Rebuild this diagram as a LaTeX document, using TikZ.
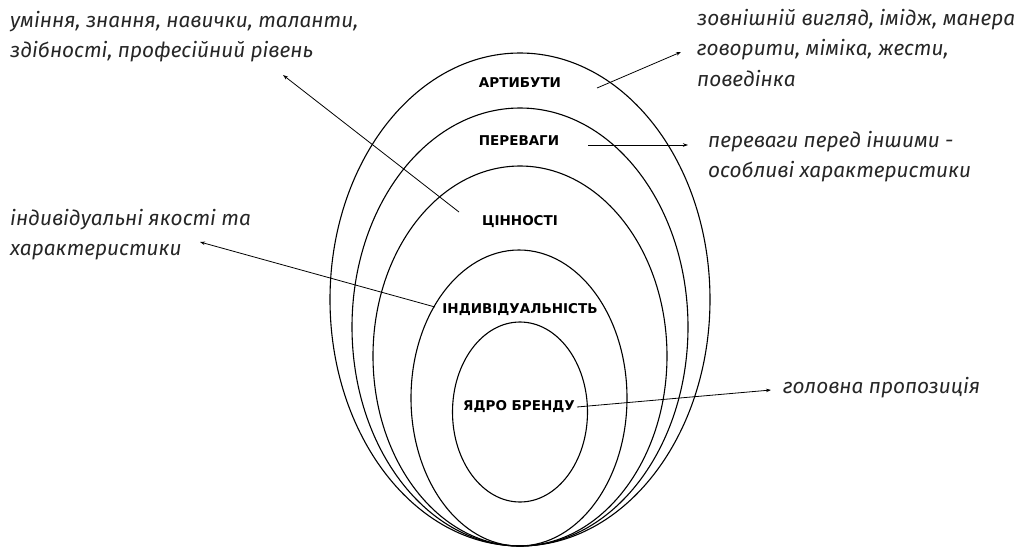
\documentclass[tikz,border=0pt]{standalone}
\usepackage{fontspec}
\setmainfont{Fira Sans}
\newfontfamily\labelfont{DejaVu Sans}
\usetikzlibrary{arrows.meta}

\tikzset{
	ring/.style={line width=1.1pt},
	layer/.style={font=\labelfont\bfseries\fontsize{13.5}{15}\selectfont, inner sep=1pt},
	note/.style={font=\itshape\fontsize{20.8}{30.5}\selectfont, align=left, inner sep=0pt, text=black!85},
	pointer/.style={line width=0.8pt, -{Stealth[length=5pt,width=3.5pt]}}
}

\begin{document}
\begin{tikzpicture}[x=1pt,y=-1pt]
	\useasboundingbox (0,0) rectangle (1021,547);
	% rings
	\draw[ring] (520,299.5) ellipse [x radius=190, y radius=246.5];
	\draw[ring] (520,327) ellipse [x radius=168, y radius=219];
	\draw[ring] (520,356) ellipse [x radius=147, y radius=190];
	\draw[ring] (519,398) ellipse [x radius=108, y radius=148];
	\draw[ring] (520,412) ellipse [x radius=67.5, y radius=90];
	% labels
	\node[layer] (atr) at (520,83) {АРТИБУТИ};
	\node[layer] (per) at (519,141) {ПЕРЕВАГИ};
	\node[layer] (cin) at (520,222) {ЦІННОСТІ};
	\node[layer] (ind) at (520,310) {ІНДИВІДУАЛЬНІСТЬ};
	\node[layer] (core) at (519,407) {ЯДРО БРЕНДУ};
	% notes
	\node[note,anchor=north west] (skills) at (10,11) {уміння, знання, навички, таланти,\\здібності, професійний рівень};
	\node[note,anchor=north west] (look) at (697,9) {зовнішній вигляд, імідж, манера\\говорити, міміка, жести,\\поведінка};
	\node[note,anchor=north west] (adv) at (708,131) {переваги перед іншими -\\особливі характеристики};
	\node[note,anchor=north west] (pers) at (10,209) {індивідуальні якості та\\характеристики};
	\node[note,anchor=west] (prop) at (783,388) {головна пропозиція};
	% arrow ends
	\coordinate (skillsTip) at (283,75);
	\coordinate (lookTip) at (681,52);
	\coordinate (advTip) at (688,145);
	\coordinate (persTip) at (200,242);
	\coordinate (propTip) at (771,390);
	% arrows
	\draw[pointer] ([shift={(-61pt,10pt)}]cin.center) -- (skillsTip);
	\draw[pointer] ([shift={(77pt,-5pt)}]atr.center) -- (lookTip);
	\draw[pointer] ([shift={(69pt,-4pt)}]per.center) -- (advTip);
	\draw[pointer] ([shift={(-85pt,3pt)}]ind.center) -- (persTip);
	\draw[pointer] ([xshift=1pt]core.east) -- (propTip);
\end{tikzpicture}
\end{document}
